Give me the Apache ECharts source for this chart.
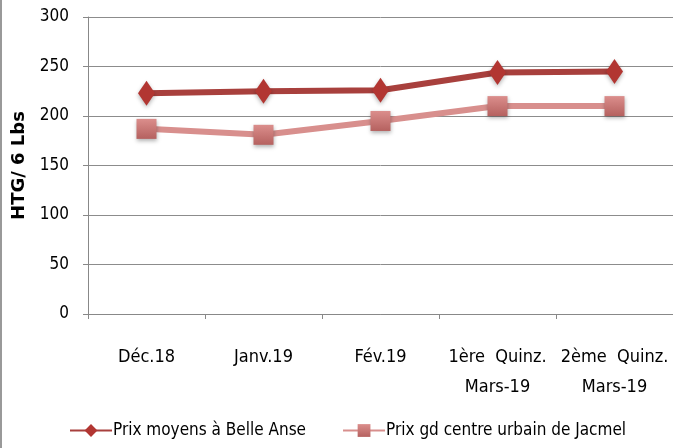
<!DOCTYPE html>
<html>
<head>
<meta charset="utf-8">
<script src="https://cdn.jsdelivr.net/npm/echarts@6/dist/echarts.min.js"></script>
<style>
  html, body { margin: 0; padding: 0; background: #fff; }
  #main { width: 673px; height: 448px; border-left: 2px solid #999; box-sizing: border-box; }
</style>
</head>
<body>
<div id="main"></div>
<script>
const categories = ['Déc.18', 'Janv.19', 'Fév.19', '1ère  Quinz.\nMars-19', '2ème  Quinz.\nMars-19'];
const belleAnse = [223, 225, 226, 244, 245];
const jacmel = [187, 181, 195, 210, 210];
const yTicks = { min: 0, max: 300, interval: 50 };

const font = '"DejaVu Sans Condensed", "Liberation Sans", sans-serif';
const chart = echarts.init(document.getElementById('main'));
const option = {
  animation: false,
  grid: { left: 86, right: 0, top: 17, bottom: 134 },
  xAxis: {
    type: 'category',
    data: categories,
    boundaryGap: true,
    axisLine: { lineStyle: { color: '#888', width: 1 } },
    axisTick: { show: true, length: 5, lineStyle: { color: '#888' } },
    axisLabel: { interval: 0, color: '#000', fontFamily: font, fontSize: 18, margin: 28, lineHeight: 30 }
  },
  yAxis: {
    type: 'value',
    min: yTicks.min, max: yTicks.max, interval: yTicks.interval,
    name: 'HTG/ 6 Lbs',
    nameLocation: 'middle',
    nameGap: 60,
    nameTextStyle: { fontFamily: '"DejaVu Sans", sans-serif', fontWeight: 'bold', fontSize: 18, color: '#000' },
    axisLine: { show: true, lineStyle: { color: '#888' } },
    axisTick: { show: true, length: 5, lineStyle: { color: '#888' } },
    axisLabel: { color: '#000', fontFamily: font, fontSize: 17, margin: 19 },
    splitLine: { lineStyle: { color: '#8c8c8c', width: 1 } }
  },
  legend: {
    bottom: 4,
    left: 62,
    itemGap: 36,
    itemWidth: 42,
    itemHeight: 16,
    textStyle: { fontFamily: font, fontSize: 17, color: '#000', padding: [0, 0, 0, -4] },
    data: ['Prix moyens à Belle Anse', 'Prix gd centre urbain de Jacmel']
  },
  series: [
    {
      name: 'Prix moyens à Belle Anse',
      type: 'line',
      data: belleAnse,
      symbol: 'diamond',
      symbolSize: [17, 25],
      lineStyle: { color: '#A8403D', width: 6 },
      itemStyle: { color: '#B23632', shadowColor: 'rgba(0,0,0,0.3)', shadowBlur: 4, shadowOffsetY: 2 }
    },
    {
      name: 'Prix gd centre urbain de Jacmel',
      type: 'line',
      data: jacmel,
      symbol: 'rect',
      symbolSize: 20,
      lineStyle: { color: '#D88F8D', width: 6 },
      itemStyle: {
        color: new echarts.graphic.LinearGradient(0, 0, 0, 1, [
          { offset: 0, color: '#DB8E8C' },
          { offset: 1, color: '#B5615F' }
        ]),
        shadowColor: 'rgba(0,0,0,0.3)', shadowBlur: 4, shadowOffsetY: 2
      }
    }
  ]
};
option && chart.setOption(option);
</script>
</body>
</html>
